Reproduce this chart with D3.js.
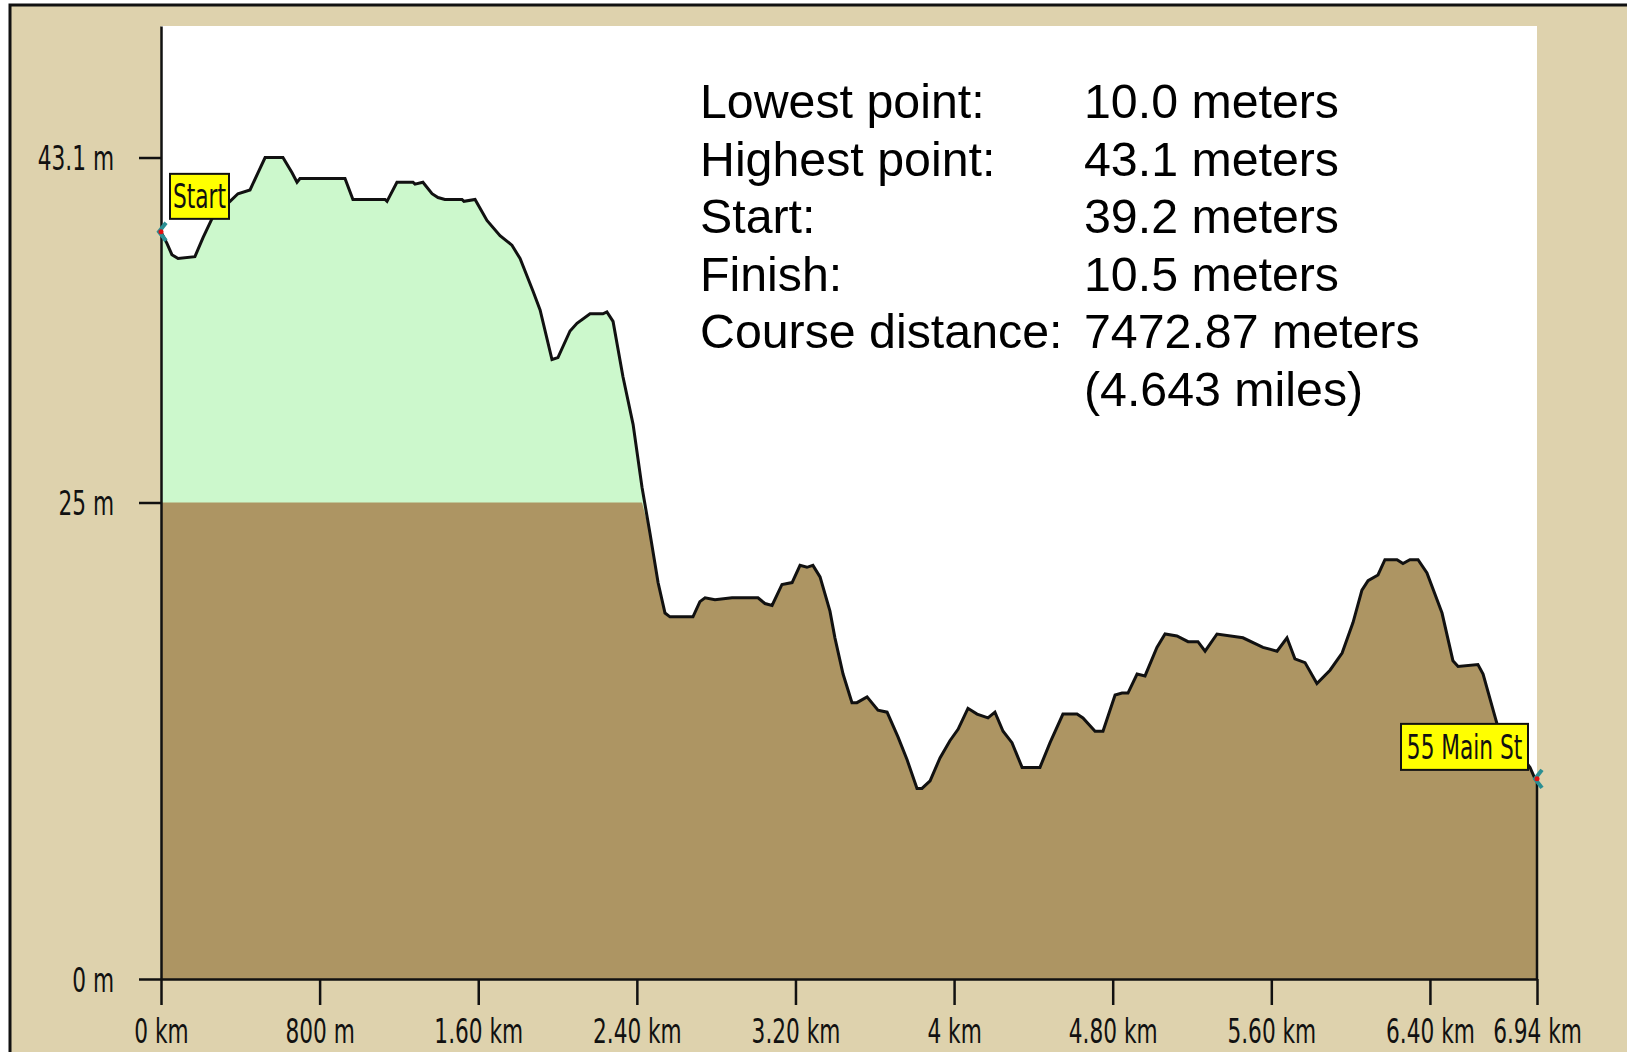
<!DOCTYPE html>
<html>
<head>
<meta charset="utf-8">
<title>Elevation profile</title>
<script src="https://d3js.org/d3.v7.min.js"></script>
<style>
  body { margin: 0; background: #fff; }
  .tick-label, .pin-label {
    font-family: "Liberation Sans Narrow", "Arial Narrow", "DejaVu Sans Condensed", sans-serif;
    font-size: 33px;
    fill: #111;
  }
  .stat {
    font-family: "Liberation Sans", Arial, sans-serif;
    font-size: 48.3px;
    fill: #000;
  }
</style>
</head>
<body>
<div id="chart"></div>
<script>
// course profile (km, metres)
var distKm = [0, 0.03, 0.055, 0.086, 0.171, 0.212, 0.262, 0.348, 0.388, 0.449,
  0.489, 0.525, 0.615, 0.661, 0.686, 0.701, 0.928, 0.968, 1.13, 1.14,
  1.19, 1.271, 1.281, 1.321, 1.367, 1.397, 1.432, 1.518, 1.528, 1.584,
  1.644, 1.71, 1.77, 1.811, 1.876, 1.912, 1.972, 2.002, 2.063, 2.098,
  2.164, 2.229, 2.249, 2.28, 2.33, 2.381, 2.426, 2.466, 2.507, 2.542,
  2.567, 2.683, 2.718, 2.744, 2.794, 2.88, 3.011, 3.046, 3.082, 3.132,
  3.183, 3.223, 3.258, 3.288, 3.324, 3.374, 3.399, 3.44, 3.485, 3.51,
  3.561, 3.616, 3.662, 3.717, 3.763, 3.813, 3.838, 3.879, 3.929, 3.979,
  4.02, 4.07, 4.116, 4.171, 4.206, 4.247, 4.292, 4.343, 4.433, 4.484,
  4.549, 4.62, 4.65, 4.711, 4.751, 4.812, 4.847, 4.877, 4.923, 4.963,
  5.023, 5.064, 5.124, 5.18, 5.23, 5.266, 5.326, 5.457, 5.558, 5.629,
  5.679, 5.719, 5.77, 5.83, 5.896, 5.957, 6.012, 6.057, 6.088, 6.138,
  6.173, 6.234, 6.264, 6.299, 6.34, 6.385, 6.461, 6.516, 6.542, 6.642,
  6.668, 6.738, 6.905, 6.93, 6.94];
var elevM = [39.2, 38.6, 38.0, 37.8, 37.9, 38.9, 40.0, 40.8, 41.2, 41.4,
  42.3, 43.1, 43.1, 42.3, 41.8, 42.0, 42.0, 40.9, 40.9, 40.8,
  41.8, 41.8, 41.7, 41.8, 41.2, 41.0, 40.9, 40.9, 40.8, 40.9,
  39.8, 39.0, 38.5, 37.8, 36.1, 35.1, 32.5, 32.6, 34.0, 34.4,
  34.9, 34.9, 35.0, 34.5, 31.6, 29.1, 25.8, 23.4, 20.8, 19.2,
  19.0, 19.0, 19.8, 20.0, 19.9, 20.0, 20.0, 19.7, 19.6, 20.7,
  20.8, 21.7, 21.6, 21.7, 21.1, 19.3, 17.9, 16.0, 14.5, 14.5,
  14.8, 14.1, 14.0, 12.7, 11.5, 10.0, 10.0, 10.4, 11.6, 12.5,
  13.1, 14.2, 13.9, 13.7, 14.0, 13.0, 12.4, 11.1, 11.1, 12.4,
  13.9, 13.9, 13.7, 13.0, 13.0, 14.9, 15.0, 15.0, 16.0, 15.9,
  17.4, 18.1, 18.0, 17.7, 17.7, 17.2, 18.1, 17.9, 17.4, 17.2,
  17.9, 16.8, 16.6, 15.5, 16.2, 17.1, 18.7, 20.4, 20.9, 21.2,
  22.0, 22.0, 21.8, 22.0, 22.0, 21.3, 19.2, 16.7, 16.4, 16.5,
  16.0, 13.4, 11.1, 10.5, 10.5];

var xTickValues = [0, 0.8, 1.6, 2.4, 3.2, 4, 4.8, 5.6, 6.4, 6.94];
var xTickLabels = ["0 km", "800 m", "1.60 km", "2.40 km", "3.20 km", "4 km", "4.80 km", "5.60 km", "6.40 km", "6.94 km"];
var yTickValues = [0, 25, 43.1];
var yTickLabels = ["0 m", "25 m", "43.1 m"];
var bandLevel = 25;

var statNames = ["Lowest point:", "Highest point:", "Start:", "Finish:", "Course distance:", ""];
var statValues = ["10.0 meters", "43.1 meters", "39.2 meters", "10.5 meters", "7472.87 meters", "(4.643 miles)"];

var pinNames = ["Start", "55 Main St"];

var width = 1631, height = 1052;
var plot = { left: 161, right: 1537, top: 26, bottom: 979 };
var squeeze = "scale(0.73,1)";   // the original uses a tall, narrow pixel font

var data = distKm.map(function(d, i) { return { d: d, e: elevM[i] }; });

var x = d3.scaleLinear().domain([0, 6.94]).range([plot.left, plot.right]);
var y = d3.scaleLinear().domain([0, 50]).range([plot.bottom, plot.top]);

var svg = d3.select("#chart").append("svg")
    .attr("width", width)
    .attr("height", height);

// beige panel with frame on top / left
svg.append("rect")
    .attr("x", 10).attr("y", 5)
    .attr("width", 1617).attr("height", height)
    .attr("fill", "#ded2ad");
svg.append("path")
    .attr("d", "M10," + height + "V5H1627")
    .attr("fill", "none")
    .attr("stroke", "#111")
    .attr("stroke-width", 3);

svg.append("rect")
    .attr("x", plot.left).attr("y", plot.top)
    .attr("width", plot.right - plot.left)
    .attr("height", plot.bottom - plot.top)
    .attr("fill", "#fff");

// green part above the band, brown below
svg.append("path")
    .datum(data)
    .attr("fill", "#ccf8cc")
    .attr("d", d3.area()
        .x(function(p) { return x(p.d); })
        .y0(y(0))
        .y1(function(p) { return y(p.e); }));

svg.append("path")
    .datum(data)
    .attr("fill", "#ad9563")
    .attr("d", d3.area()
        .x(function(p) { return x(p.d); })
        .y0(y(0))
        .y1(function(p) { return y(Math.min(p.e, bandLevel)); }));

svg.append("path")
    .datum(data)
    .attr("fill", "none")
    .attr("stroke", "#111")
    .attr("stroke-width", 3)
    .attr("stroke-linejoin", "miter")
    .attr("d", d3.line()
        .x(function(p) { return x(p.d); })
        .y(function(p) { return y(p.e); }));

var last = data[data.length - 1];
svg.append("line")
    .attr("x1", x(last.d)).attr("x2", x(last.d))
    .attr("y1", y(last.e)).attr("y2", y(0))
    .attr("stroke", "#111")
    .attr("stroke-width", 2.5);

// axes
var xAxis = svg.append("g")
    .attr("transform", "translate(0," + y(0) + ")")
    .call(d3.axisBottom(x)
        .tickValues(xTickValues)
        .tickSize(26)
        .tickSizeOuter(0)
        .tickFormat(function(d, i) { return xTickLabels[i]; }));

var yAxis = svg.append("g")
    .attr("transform", "translate(" + x(0) + ",0)")
    .call(d3.axisLeft(y)
        .tickValues(yTickValues)
        .tickSize(22)
        .tickSizeOuter(0)
        .tickFormat(function(d, i) { return yTickLabels[i]; }));

[xAxis, yAxis].forEach(function(ax) {
  ax.select(".domain").attr("stroke", "#111").attr("stroke-width", 2.5);
  ax.selectAll(".tick line").attr("stroke", "#111").attr("stroke-width", 2.5);
  ax.selectAll("text")
      .attr("class", "tick-label")
      .attr("font-family", null)
      .attr("font-size", null)
      .attr("fill", null);
});

// keep the km labels just inside the bottom edge
xAxis.selectAll(".tick text")
    .attr("y", null).attr("dy", null)
    .attr("transform", "translate(0,64) " + squeeze);

yAxis.selectAll(".tick text")
    .attr("x", null).attr("dy", null)
    .attr("transform", "translate(-47,12) " + squeeze);

// start / finish pins
var pins = [
  { p: data[0], name: pinNames[0], bx: 9, by: -58, w: 59, h: 45 },
  { p: last, name: pinNames[1], bx: -136, by: -55, w: 127, h: 46 }
];

pins.forEach(function(pin) {
  var px = x(pin.p.d), py = y(pin.p.e);
  var g = svg.append("g");
  g.append("path")
      .attr("d", "M" + (px + 5) + "," + (py - 9) + "L" + (px - 2) + "," + py + "L" + (px + 5) + "," + (py + 9))
      .attr("fill", "none")
      .attr("stroke", "#2b8f93")
      .attr("stroke-width", 4);
  g.append("circle")
      .attr("cx", px).attr("cy", py).attr("r", 2.5)
      .attr("fill", "#e01010");
  g.append("rect")
      .attr("x", px + pin.bx).attr("y", py + pin.by)
      .attr("width", pin.w).attr("height", pin.h)
      .attr("fill", "#ffff00")
      .attr("stroke", "#111")
      .attr("stroke-width", 2);
  g.append("text")
      .attr("class", "pin-label")
      .attr("text-anchor", "middle")
      .attr("transform", "translate(" + (px + pin.bx + pin.w / 2) + "," + (py + pin.by + pin.h / 2 + 12) + ") " + squeeze)
      .text(pin.name);
});

// summary text block
var stats = svg.append("g");
stats.selectAll(".stat-name")
    .data(statNames)
    .enter().append("text")
    .attr("class", "stat")
    .attr("x", 700)
    .attr("y", function(d, i) { return 118 + i * 57.5; })
    .text(function(d) { return d; });
stats.selectAll(".stat-value")
    .data(statValues)
    .enter().append("text")
    .attr("class", "stat")
    .attr("x", 1084)
    .attr("y", function(d, i) { return 118 + i * 57.5; })
    .text(function(d) { return d; });
</script>
</body>
</html>
